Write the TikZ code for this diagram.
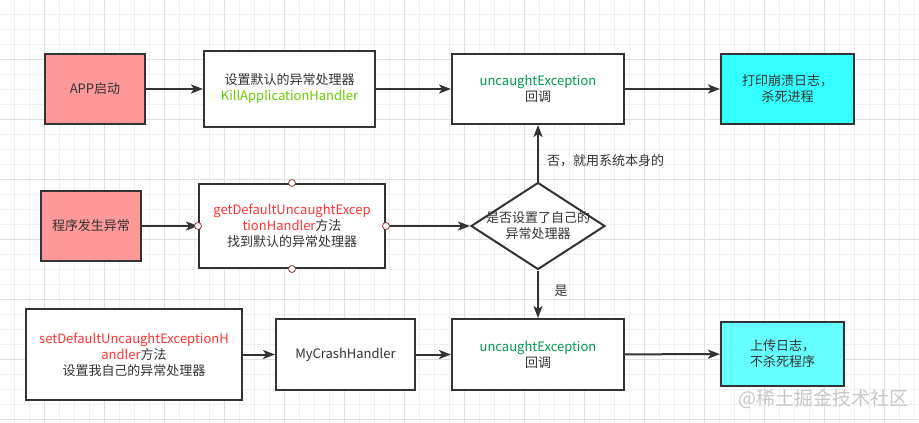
\documentclass[tikz,border=0pt]{standalone}
\usepackage{fontspec}
\setmainfont{Noto Sans CJK SC}
\usetikzlibrary{shapes.geometric, arrows.meta, positioning}
\definecolor{boxline}{RGB}{51,51,51}
\definecolor{txtgray}{RGB}{51,51,51}
\definecolor{startred}{RGB}{255,153,153}
\definecolor{endcyan}{RGB}{51,255,255}
\definecolor{uploadcyan}{RGB}{102,255,255}
\definecolor{killgreen}{RGB}{102,204,0}
\definecolor{cbgreen}{RGB}{0,153,77}
\definecolor{methodred}{RGB}{255,51,51}
\definecolor{gridminor}{RGB}{240,240,240}
\definecolor{gridmajor}{RGB}{224,224,224}
\definecolor{portred}{RGB}{150,60,60}
\definecolor{markgray}{RGB}{200,200,200}

\begin{document}
\begin{tikzpicture}[x=1pt, y=-1pt,
    box/.style={draw=boxline, line width=2pt, fill=white, text=txtgray, align=center,
        inner sep=0pt, font=\fontsize{13}{16}\selectfont},
    decision/.style={diamond, draw=boxline, line width=2pt, fill=white, inner sep=0pt,
        minimum width=134pt, minimum height=87pt},
    note/.style={text=txtgray, inner sep=0pt, align=center, font=\fontsize{13}{16}\selectfont},
    flow/.style={draw=boxline, line width=2pt, -{Stealth[length=12pt, width=9pt, inset=3pt]}},
    port/.style={circle, draw=portred, fill=white, line width=0.8pt, inner sep=0pt, minimum size=7pt}]
    \useasboundingbox (0,0) rectangle (919,423);
    \fill[white] (0,0) rectangle (919,423);

    % grid
    \foreach \gx in {14,29,...,914} \draw[gridminor, line width=1pt] (\gx,0) -- (\gx,423);
    \foreach \gy in {14,29,...,419} \draw[gridminor, line width=1pt] (0,\gy) -- (919,\gy);
    \foreach \gx in {44,104,...,884} \draw[gridmajor, line width=1pt] (\gx,0) -- (\gx,423);
    \foreach \gy in {59,119,...,419} \draw[gridmajor, line width=1pt] (0,\gy) -- (919,\gy);

    % top row: normal start
    \node[box, fill=startred, minimum width=100pt, minimum height=70pt] (app) at (95,89) {APP启动};
    \node[box, minimum width=171pt, minimum height=76pt] (kill) at (289.5,89)
        {设置默认的异常处理器\\\textcolor{killgreen}{KillApplicationHandler}};
    \node[box, minimum width=172pt, minimum height=70pt] (cb1) at (538,89)
        {\textcolor{cbgreen}{uncaughtException}\\回调};
    \node[box, fill=endcyan, minimum width=133pt, minimum height=70pt] (log1) at (787.5,89)
        {打印崩溃日志，\\杀死进程};

    % middle row: exception
    \node[box, fill=startred, minimum width=100pt, minimum height=70pt] (crash) at (91,226) {程序发生异常};
    \node[box, minimum width=186pt, minimum height=84pt] (getdef) at (292,226)
        {\textcolor{methodred}{getDefaultUncaughtExcep}\\\textcolor{methodred}{tionHandler}方法\\找到默认的异常处理器};
    \node[decision] (dec) at (538,226) {};
    \node[note] (dectext) at (dec) {是否设置了自己的\\异常处理器};

    % bottom row: own handler
    \node[box, minimum width=216pt, minimum height=91pt] (setdef) at (134,354.5)
        {\textcolor{methodred}{setDefaultUncaughtExceptionH}\\\textcolor{methodred}{andler}方法\\设置我自己的异常处理器};
    \node[box, minimum width=139pt, minimum height=71pt] (myh) at (345.5,354.5) {MyCrashHandler};
    \node[box, minimum width=172pt, minimum height=71pt] (cb2) at (538,354.5)
        {\textcolor{cbgreen}{uncaughtException}\\回调};
    \node[box, fill=uploadcyan, minimum width=123pt, minimum height=64pt] (log2) at (782.5,354)
        {上传日志，\\不杀死程序};

    \draw[flow] (app) -- (kill);
    \draw[flow] (kill) -- (cb1);
    \draw[flow] (cb1) -- (log1);
    \draw[flow] (crash) -- (getdef);
    \draw[flow] (getdef) -- (dec);
    \draw[flow] (dec) -- (cb1);
    \draw[flow] (dec) -- (cb2);
    \draw[flow] (setdef) -- (myh);
    \draw[flow] (myh) -- (cb2);
    \draw[flow] (cb2) -- (log2);

    % connection points
    \node[port] (getdef-n) at (getdef.north) {};
    \node[port] (getdef-s) at (getdef.south) {};
    \node[port] (getdef-w) at (getdef.west) {};
    \node[port] (getdef-e) at (getdef.east) {};

    \node[note, anchor=west] (no) at (547,161) {否，就用系统本身的};
    \node[note] (yes) at (561,291) {是};
    \node[text=markgray, inner sep=0pt, font=\fontsize{19}{19}\selectfont] (mark) at (823.5,399) {@稀土掘金技术社区};
\end{tikzpicture}
\end{document}
